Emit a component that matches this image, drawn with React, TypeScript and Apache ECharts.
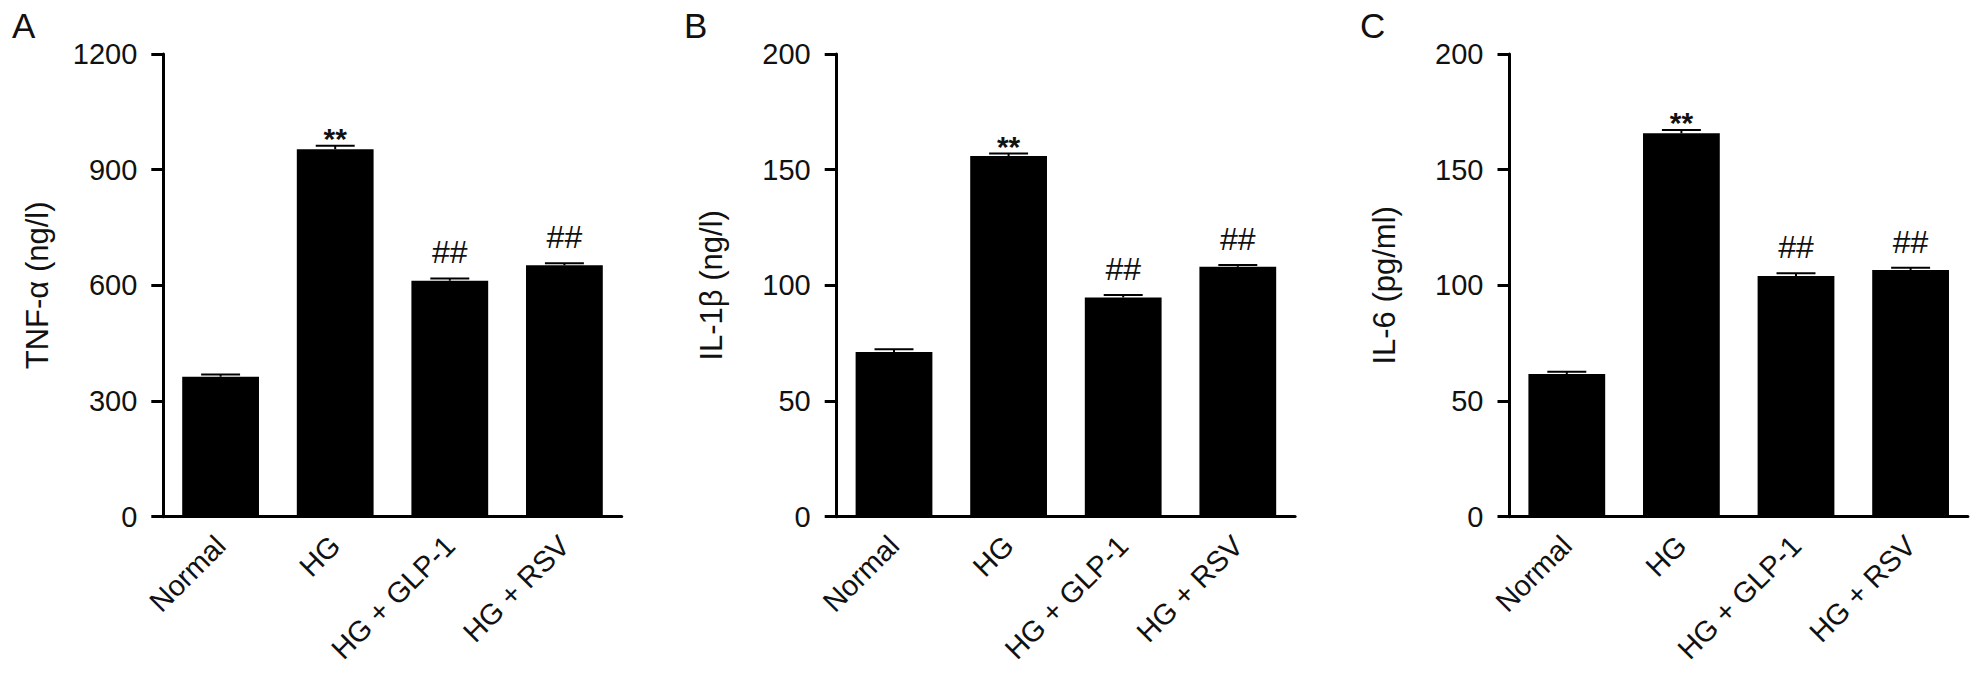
import React, { useEffect, useRef } from "react";
import * as echarts from "echarts";

const categories = ["Normal", "HG", "HG+GLP-1", "HG+RSV"];
const annotations = ["", "**", "##", "##"];

const tnfMeans = [363, 953, 612, 652];
const tnfErrors = [6, 9, 6, 5];

const il1bMeans = [71.2, 155.9, 94.8, 108.0];
const il1bErrors = [1.2, 1.1, 1.0, 0.8];

const il6Means = [61.7, 165.7, 104.0, 106.6];
const il6Errors = [1.0, 1.5, 1.2, 1.0];

const panelLetters = ["A", "B", "C"];
const yNames = ["TNF-α (ng/l)", "IL-1β (ng/l)", "IL-6 (pg/ml)"];
const yMax = [1200, 200, 200];
const yInterval = [300, 50, 50];

const FONT = "'Liberation Sans', Arial, Helvetica, sans-serif";
const TXT = "#111";

export default function App() {
  const ref = useRef<HTMLDivElement>(null);
  useEffect(() => {
    if (!ref.current) return;
    const chart = echarts.init(ref.current, null, { renderer: "svg" });
    const means = [tnfMeans, il1bMeans, il6Means];
    const errs = [tnfErrors, il1bErrors, il6Errors];
    const lefts = [163.3, 836.7, 1509.5];
    const letterX = [12, 684, 1360];
    const grids = lefts.map((l) => ({ left: l, top: 54, width: 458.4, height: 462.7 }));
    const xAxes = lefts.map((_, k) => ({
      type: "category",
      gridIndex: k,
      data: categories,
      axisLine: { lineStyle: { color: "#000", width: 3 } },
      axisTick: { alignWithLabel: true, length: 13, lineStyle: { color: "#000", width: 3 } },
      axisLabel: {
        rotate: 45,
        margin: 24,
        fontSize: 29,
        fontFamily: FONT,
        color: TXT,
        interval: 0,
        formatter: (v: string) => v.replace("+", " + "),
      },
    }));
    const yAxes = lefts.map((_, k) => ({
      type: "value",
      gridIndex: k,
      min: 0,
      max: yMax[k],
      interval: yInterval[k],
      name: yNames[k],
      nameLocation: "middle",
      nameGap: 110,
      nameTextStyle: { fontSize: 31, fontFamily: FONT, color: TXT },
      axisLine: { show: true, lineStyle: { color: "#000", width: 3 } },
      axisTick: { show: true, length: 12, lineStyle: { color: "#000", width: 3 } },
      axisLabel: { fontSize: 29, fontFamily: FONT, color: TXT, margin: 26, formatter: (v: number) => String(v) },
      splitLine: { show: false },
    }));
    const series: any[] = [];
    lefts.forEach((_, k) => {
      series.push({
        type: "bar",
        xAxisIndex: k,
        yAxisIndex: k,
        data: means[k],
        barWidth: "67%",
        itemStyle: { color: "#000" },
        z: 2,
      });
      series.push({
        type: "custom",
        xAxisIndex: k,
        yAxisIndex: k,
        z: 3,
        data: means[k].map((m, i) => [i, m, errs[k][i]]),
        renderItem: (params: any, api: any) => {
          const i = params.dataIndex;
          const idx = api.value(0);
          const m = api.value(1);
          const e = api.value(2);
          const base = api.coord([idx, m]);
          const top = api.coord([idx, m + e]);
          const capHalf = api.size([1, 0])[0] * 0.17;
          const children: any[] = [
            { type: "line", shape: { x1: top[0], y1: base[1], x2: top[0], y2: top[1] }, style: { stroke: "#000", lineWidth: 2 } },
            { type: "line", shape: { x1: top[0] - capHalf, y1: top[1], x2: top[0] + capHalf, y2: top[1] }, style: { stroke: "#000", lineWidth: 2 } },
          ];
          const ann = annotations[i];
          if (ann) {
            const isStar = ann === "**";
            children.push({
              type: "text",
              x: top[0],
              y: top[1] - (isStar ? -8 : 10),
              style: {
                text: ann,
                font: isStar ? `bold 30px ${FONT}` : `32px ${FONT}`,
                fill: "#111",
                align: "center",
                verticalAlign: "bottom",
              },
            });
          }
          return { type: "group", children };
        },
      });
    });
    chart.setOption({
      animation: false,
      backgroundColor: "#fff",
      grid: grids,
      xAxis: xAxes,
      yAxis: yAxes,
      series,
      graphic: panelLetters.map((t, k) => ({
        type: "text",
        left: letterX[k],
        top: 8,
        style: { text: t, font: `35px ${FONT}`, fill: TXT },
      })),
    });
    return () => chart.dispose();
  }, []);
  return (
    <div
      ref={ref}
      style={{ position: "fixed", left: 0, top: 0, width: 1983, height: 700, background: "#fff" }}
    />
  );
}
